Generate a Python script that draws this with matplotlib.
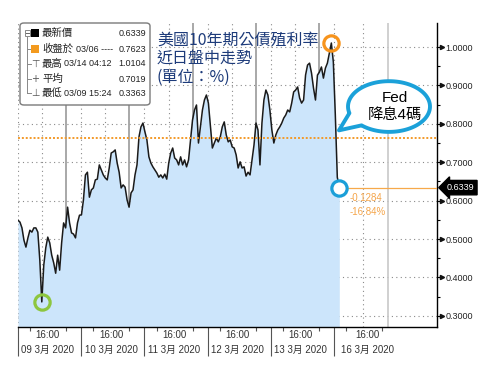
import numpy as np
import matplotlib.pyplot as plt
from matplotlib.patches import FancyBboxPatch, Polygon, Rectangle
from matplotlib.transforms import blended_transform_factory

plt.rcParams['font.family'] = ['Liberation Sans', 'Noto Sans CJK TC', 'DejaVu Sans']

# US 10Y treasury yield (%), intraday samples 09 Mar - 16 Mar 2020
yield_10y = [
    0.549, 0.544, 0.529, 0.497, 0.479, 0.503, 0.523, 0.518, 0.529, 0.529,
    0.518, 0.445, 0.3363, 0.432, 0.477, 0.505, 0.490, 0.458, 0.438, 0.411,
    0.458, 0.419, 0.490, 0.542, 0.529, 0.583, 0.542, 0.516, 0.513, 0.503,
    0.542, 0.562, 0.563, 0.602, 0.667, 0.674, 0.609, 0.628, 0.633, 0.654,
    0.656, 0.693, 0.680, 0.667, 0.659, 0.654, 0.685, 0.724, 0.727, 0.732,
    0.698, 0.674, 0.633, 0.641, 0.635, 0.602, 0.583, 0.620, 0.628, 0.667,
    0.693, 0.766, 0.792, 0.802, 0.779, 0.758, 0.714, 0.698, 0.688, 0.680,
    0.672, 0.661, 0.667, 0.659, 0.669, 0.656, 0.698, 0.724, 0.737, 0.711,
    0.706, 0.693, 0.714, 0.693, 0.706, 0.688, 0.706, 0.758, 0.810, 0.836,
    0.849, 0.750, 0.792, 0.836, 0.862, 0.875, 0.854, 0.797, 0.737, 0.750,
    0.763, 0.753, 0.766, 0.792, 0.805, 0.771, 0.753, 0.758, 0.740, 0.737,
    0.719, 0.685, 0.701, 0.685, 0.688, 0.664, 0.674, 0.667, 0.706, 0.745,
    0.802, 0.784, 0.693, 0.802, 0.862, 0.888, 0.875, 0.836, 0.784, 0.750,
    0.771, 0.784, 0.792, 0.802, 0.815, 0.823, 0.836, 0.831, 0.854, 0.883,
    0.888, 0.896, 0.867, 0.854, 0.862, 0.927, 0.953, 0.958, 0.932, 0.893,
    0.862, 0.927, 0.935, 0.948, 0.919, 0.945, 0.958, 0.984, 1.0104, 0.961,
    0.823, 0.661, 0.6339,
]
day_labels = ['09 3月 2020', '10 3月 2020', '11 3月 2020',
              '12 3月 2020', '13 3月 2020', '16 3月 2020']
time_label = '16:00'
y_ticks = [0.3, 0.4, 0.5, 0.6, 0.7, 0.8, 0.9, 1.0]

latest = 0.6339
prev_close, prev_close_date = 0.7623, '03/06'
high, high_time = 1.0104, '03/14 04:12'
avg = 0.7019
low, low_time = 0.3363, '03/09 15:24'

title_lines = ['美國10年期公債殖利率', '近日盤中走勢', '(單位：%)']
callout_lines = ['Fed', '降息4碼']

# time axis in trading-day units (day 0 = 09 Mar)
t = np.linspace(0, 5.08, len(yield_10y))
y = np.array(yield_10y)

W, H = 484, 377
fig = plt.figure(figsize=(W / 100, H / 100), dpi=100)


def fx(px):
    return px / W


def fy(py):
    return 1 - py / H


ax = fig.add_axes([fx(18), fy(327), (437 - 18) / W, (327 - 23) / H])
xmin, xmax = 0, 6.625
ymin, ymax = 0.271, 1.0625
ax.set_xlim(xmin, xmax)
ax.set_ylim(ymin, ymax)

# grid
for v in y_ticks:
    ax.axhline(v, color='#8a8a8a', lw=0.8, ls=(0, (1, 3)), zorder=1)
for d in range(6):
    ax.axvline(d, color='#8a8a8a', lw=0.8, ls=(0, (1, 3)), zorder=1)
    ax.axvline(d + (0.38 if d < 5 else 0.46), color='#8a8a8a', lw=0.8, ls=(0, (1, 3)), zorder=1)
    ax.axvline(d + (0.76 if d < 5 else 0.85), color='#9a9a9a' if d < 5 else '#c8c8c8', lw=1.2, zorder=1)

# series
ax.fill_between(t, y, ymin, color='#cce5fb', lw=0, zorder=2)
ax.plot(t, y, color='#1a1a1a', lw=1.1, zorder=3)
ax.axhline(prev_close, color='#f39a2a', lw=1.4, ls=(0, (1, 1)), zorder=3)
ax.plot([t[-1] + 0.1, xmax], [latest, latest], color='#f7a94a', lw=0.9, zorder=3)

# highlight circles
imin, imax = int(np.argmin(y)), int(np.argmax(y))
ax.plot(t[imin], y[imin], 'o', ms=11, mfc='none', mec='#8dc63f', mew=2.3, zorder=5)
ax.plot(t[imax], y[imax], 'o', ms=11, mfc='none', mec='#f7941d', mew=2.3, zorder=5)
ax.plot(t[-1], y[-1], 'o', ms=11, mfc='white', mec='#1b9fd8', mew=2.3, zorder=5)

chg = latest - prev_close
ax.text(t[-1] + 0.16, 0.607, f'{chg:.4f}', color='#f5a54a', fontsize=7, va='center')
ax.text(t[-1] + 0.16, 0.571, f'{chg / prev_close * 100:.2f}%', color='#f5a54a',
        fontsize=7, va='center')

# axes styling
for s in ['top', 'left']:
    ax.spines[s].set_visible(False)
ax.spines['right'].set_linewidth(1.0)
ax.spines['bottom'].set_linewidth(1.0)
ax.yaxis.tick_right()
ax.set_yticks(y_ticks)
ax.set_yticklabels([f'{v:.4f}' for v in y_ticks])
ax.set_yticks(np.arange(0.35, 1.0, 0.1), minor=True)
ax.tick_params(axis='y', which='major', length=4, width=0.8, pad=2, labelsize=6.5,
               labelcolor='#222')
ax.tick_params(axis='y', which='minor', length=2.5, width=0.8)
ytr = blended_transform_factory(ax.transAxes, ax.transData)
ax.plot(np.full(len(y_ticks), 1.012), y_ticks, '>', ms=3, color='#111',
        transform=ytr, clip_on=False, zorder=6)

ax.set_xticks(range(6))
ax.set_xticks([d + o for d in range(6) for o in (0.19, 0.76)], minor=True)
ax.tick_params(axis='x', which='major', length=21, width=0.8, color='#555',
               labelbottom=False)
ax.tick_params(axis='x', which='minor', length=3, width=0.8, color='#555')
xtr = blended_transform_factory(ax.transData, ax.transAxes)
for i, lab in enumerate(day_labels):
    xc = i + (0.47 if i < 5 else 0.53)
    ax.text(xc, -0.027, time_label, transform=xtr, ha='center', va='center',
            fontsize=7, color='#333')
    ax.text(xc, -0.076, lab, transform=xtr, ha='center', va='center',
            fontsize=7, color='#333')

# latest price tag on the axis
ax.annotate(f'{latest:.4f}', xy=(1.0, latest), xycoords=ytr, xytext=(7, 0),
            textcoords='offset points', ha='left', va='center', color='white',
            fontsize=6.5, annotation_clip=False, zorder=7,
            bbox=dict(boxstyle='larrow,pad=0.3', fc='black', ec='black'))

# Fed callout bubble
cx, cy, a, b = 5.866, 0.845, 0.648, 0.066
tip = (5.075, 0.783)
ang = np.radians(np.linspace(228, 195 + 360, 160))
pts = np.column_stack([cx + a * np.cos(ang), cy + b * np.sin(ang)])
pts = np.vstack([pts, tip])
ax.add_patch(Polygon(pts, closed=True, fc='white', ec='#1ba1d9', lw=2.8,
                     joinstyle='round', zorder=6))
ax.text(5.96, 0.868, callout_lines[0], ha='center', va='center', fontsize=11, zorder=7)
ax.text(5.96, 0.824, callout_lines[1], ha='center', va='center', fontsize=11, zorder=7)

# title
for line, py in zip(title_lines, [40, 58, 77]):
    fig.text(fx(157), fy(py), line, ha='left', va='center', fontsize=11.5,
             color='#1d3b7a', family=['Noto Sans CJK TC', 'DejaVu Sans'])

# legend panel
box = FancyBboxPatch((fx(20), fy(105)), fx(130), (105 - 23) / H,
                     boxstyle='round,pad=0,rounding_size=0.008',
                     transform=fig.transFigure, fc='white', ec='#7a7a7a', lw=1.0,
                     zorder=8)
fig.add_artist(box)
rows = [33, 49, 64, 79, 93]
fig.add_artist(plt.Line2D([fx(27), fx(27)], [fy(37), fy(93)], color='#888', lw=0.7,
                          transform=fig.transFigure, zorder=9))
for py in rows[1:]:
    fig.add_artist(plt.Line2D([fx(27), fx(31)], [fy(py), fy(py)], color='#888', lw=0.7,
                              transform=fig.transFigure, zorder=9))
fig.add_artist(Rectangle((fx(24.5), fy(35.5)), fx(5), 5 / H, transform=fig.transFigure,
                         fc='white', ec='#888', lw=0.7, zorder=9))
fig.add_artist(plt.Line2D([fx(25.5), fx(28.5)], [fy(33), fy(33)], color='#666', lw=0.7,
                          transform=fig.transFigure, zorder=10))
fig.add_artist(Rectangle((fx(31), fy(37)), fx(8), 8 / H, transform=fig.transFigure,
                         fc='black', ec='black', lw=0, zorder=9))
fig.add_artist(Rectangle((fx(31), fy(53)), fx(8), 8 / H, transform=fig.transFigure,
                         fc='#f39a1e', ec='#f39a1e', lw=0, zorder=9))
for sym, py in zip(['⊤', '+', '⊥'], rows[2:]):
    fig.text(fx(35), fy(py), sym, ha='center', va='center', fontsize=7,
             color='#555', family='DejaVu Sans', zorder=10)

leg_names = ['最新價', '收盤於', '最高', '平均', '最低']
leg_detail = ['', prev_close_date + ' ----', high_time, '', low_time]
leg_detail_x = [0, 76, 64, 0, 64]
leg_values = [latest, prev_close, high, avg, low]
for name, det, dx, val, py in zip(leg_names, leg_detail, leg_detail_x, leg_values, rows):
    fig.text(fx(42), fy(py), name, ha='left', va='center', fontsize=7.5,
             color='#222', zorder=10)
    if det:
        fig.text(fx(dx), fy(py), det, ha='left', va='center', fontsize=6.5,
                 color='#222', zorder=10)
    fig.text(fx(146), fy(py), f'{val:.4f}', ha='right', va='center', fontsize=6.5,
             color='#222', zorder=10)

fig.savefig('out.png', dpi=100)
